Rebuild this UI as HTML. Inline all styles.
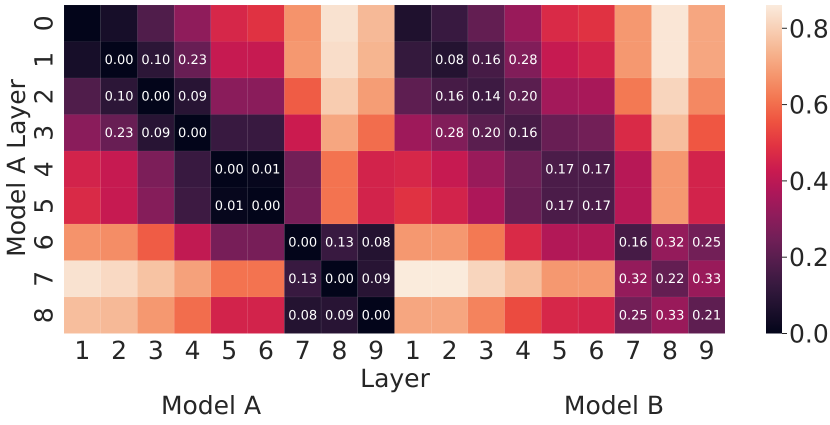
<!DOCTYPE html>
<html>
<head>
<meta charset="utf-8">
<style>
html,body{margin:0;padding:0;background:#fff;}
svg{display:block;}
text{font-family:"DejaVu Sans","Liberation Sans",sans-serif;fill:#262626;text-rendering:geometricPrecision;}
</style>
</head>
<body>
<svg id="chart" width="830" height="425" viewBox="0 0 830 425" xmlns="http://www.w3.org/2000/svg"></svg>
<script>
var rowLabels = ['0','1','2','3','4','5','6','7','8'];
var colLabels = ['1','2','3','4','5','6','7','8','9','1','2','3','4','5','6','7','8','9'];
var groupLabels = ['Model A','Model B'];
var colorbarTicks = [0.0,0.2,0.4,0.6,0.8];
var colorMax = 0.861;
var rowBlocks = [-1,1,1,1,2,2,3,3,3];
var colBlocks = [0,1,1,1,2,2,3,3,3];
var matrix = [
 [0.00,0.05,0.18,0.31,0.46,0.49,0.67,0.84,0.75, 0.07,0.13,0.22,0.33,0.47,0.49,0.68,0.85,0.71],
 [0.05,0.00,0.10,0.23,0.42,0.42,0.68,0.83,0.74, 0.12,0.08,0.16,0.28,0.42,0.45,0.68,0.85,0.71],
 [0.18,0.10,0.00,0.09,0.30,0.30,0.57,0.79,0.69, 0.21,0.16,0.14,0.20,0.35,0.36,0.62,0.81,0.65],
 [0.30,0.23,0.09,0.00,0.13,0.13,0.43,0.71,0.60, 0.34,0.28,0.20,0.16,0.23,0.25,0.47,0.76,0.56],
 [0.45,0.42,0.27,0.13,0.00,0.01,0.25,0.61,0.45, 0.46,0.42,0.33,0.24,0.17,0.17,0.39,0.68,0.45],
 [0.47,0.42,0.29,0.14,0.01,0.00,0.26,0.61,0.45, 0.49,0.45,0.37,0.23,0.17,0.17,0.39,0.68,0.45],
 [0.67,0.66,0.57,0.41,0.26,0.26,0.00,0.13,0.08, 0.68,0.68,0.62,0.47,0.38,0.38,0.16,0.32,0.25],
 [0.84,0.82,0.77,0.70,0.61,0.61,0.13,0.00,0.09, 0.86,0.86,0.81,0.76,0.68,0.68,0.32,0.22,0.33],
 [0.76,0.75,0.68,0.60,0.45,0.45,0.08,0.09,0.00, 0.71,0.71,0.64,0.54,0.46,0.45,0.25,0.33,0.21]
];
var rocket = [[3,5,26],[28,16,44],[53,25,62],[82,29,76],[112,31,87],[142,28,91],[173,23,89],[203,27,79],[225,51,66],[238,82,64],[243,118,81],[245,150,110],[246,180,143],[248,208,182],[250,235,221]];

var svg = document.getElementById('chart');
var NS = 'http://www.w3.org/2000/svg';
var plotLeft = 64, plotRight = 725, plotTop = 5, plotBottom = 333.5;
var barLeft = 766, barRight = 782;

function make(tag, attrs, parent) {
  var el = document.createElementNS(NS, tag);
  for (var k in attrs) el.setAttribute(k, attrs[k]);
  (parent || svg).appendChild(el);
  return el;
}
function xScale(i) { return plotLeft + i * (plotRight - plotLeft) / colLabels.length; }
function yScale(i) { return plotTop + i * (plotBottom - plotTop) / rowLabels.length; }
function barScale(v) { return plotBottom - (v / colorMax) * (plotBottom - plotTop); }
function colorFor(v) {
  var t = Math.max(0, Math.min(1, v / colorMax)) * (rocket.length - 1);
  var i = Math.min(rocket.length - 2, Math.floor(t));
  var f = t - i;
  var c = [0, 1, 2].map(function (j) { return Math.round(rocket[i][j] + (rocket[i + 1][j] - rocket[i][j]) * f); });
  return 'rgb(' + c.join(',') + ')';
}

var defs = make('defs', {});
var gradient = make('linearGradient', {id: 'rocket-gradient', x1: 0, y1: 1, x2: 0, y2: 0}, defs);
rocket.forEach(function (c, i) {
  make('stop', {offset: i / (rocket.length - 1), 'stop-color': 'rgb(' + c.join(',') + ')'}, gradient);
});

matrix.forEach(function (row, r) {
  row.forEach(function (v, c) {
    var cell = make('rect', {
      x: xScale(c), y: yScale(r),
      width: xScale(c + 1) - xScale(c), height: yScale(r + 1) - yScale(r),
      fill: colorFor(v), stroke: 'rgba(255,255,255,0.07)', 'stroke-width': 0.6
    });
    
    
  });
});

matrix.forEach(function (row, r) {
  row.forEach(function (v, c) {
    if (rowBlocks[r] !== colBlocks[c % 9]) return;
    var note = make('text', {
      x: (xScale(c) + xScale(c + 1)) / 2,
      y: (yScale(r) + yScale(r + 1)) / 2 + 4,
      'text-anchor': 'middle', 'font-size': 13, style: 'fill:#fff'
    });
    note.textContent = v.toFixed(2);
    
    
  });
});

colLabels.forEach(function (label, c) {
  var tick = make('text', {
    x: (xScale(c) + xScale(c + 1)) / 2, y: 359,
    'text-anchor': 'middle', 'font-size': 25
  });
  tick.textContent = label;
  
  
});

rowLabels.forEach(function (label, r) {
  var yc = (yScale(r) + yScale(r + 1)) / 2;
  var tick = make('text', {
    x: 52.5, y: yc,
    transform: 'rotate(-90 52.5 ' + yc + ')',
    'text-anchor': 'middle', 'font-size': 25
  });
  tick.textContent = label;
  
  
});

var xTitle = make('text', {x: 395, y: 387, 'text-anchor': 'middle', 'font-size': 25});
xTitle.textContent = 'Layer';



var yTitle = make('text', {x: 25, y: 168, transform: 'rotate(-90 25 168)', 'text-anchor': 'middle', 'font-size': 25});
yTitle.textContent = 'Model A Layer';



groupLabels.forEach(function (label, g) {
  var t = make('text', {x: g === 0 ? 211 : 614, y: 414, 'text-anchor': 'middle', 'font-size': 25});
  t.textContent = label;
  
  
});

var bar = make('rect', {x: barLeft, y: plotTop, width: barRight - barLeft, height: plotBottom - plotTop, fill: 'url(#rocket-gradient)'});



colorbarTicks.forEach(function (v) {
  var y = barScale(v);
  var mark = make('line', {x1: barRight, x2: barRight + 5, y1: y, y2: y, stroke: '#262626', 'stroke-width': 1});
  
  
  var label = make('text', {x: 789, y: y + 9, 'font-size': 25});
  label.textContent = v.toFixed(1);
  
  
});
</script>
</body>
</html>
